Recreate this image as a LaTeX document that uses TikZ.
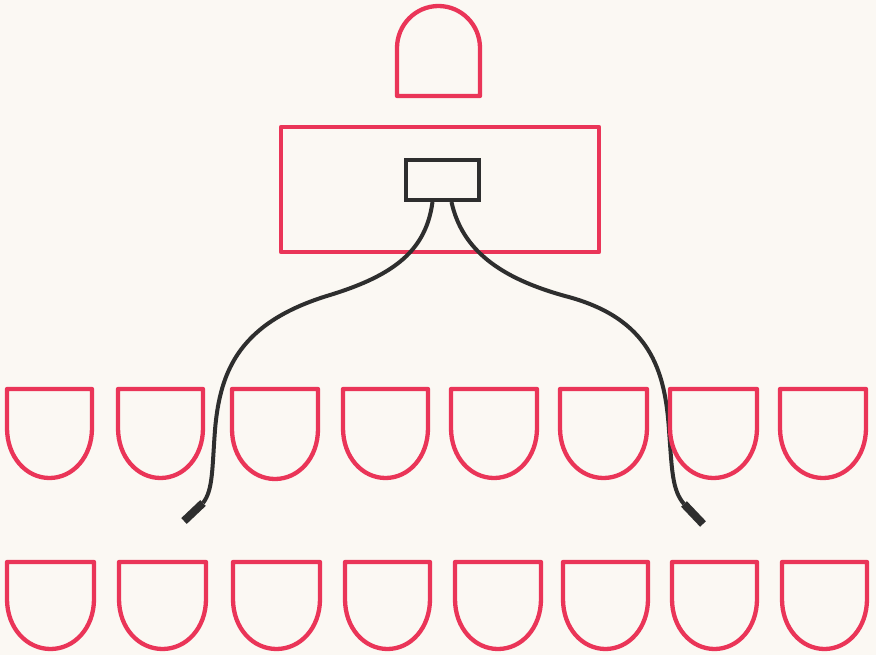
\documentclass[tikz,border=0pt]{standalone}
\usepackage{tikz}
\definecolor{bgc}{HTML}{FBF8F3}
\definecolor{seatred}{HTML}{EA3558}
\definecolor{cablegray}{HTML}{2E2E2E}
\newcommand{\seatpath}[4]{% L R T B
  \pgfmathsetmacro{\sC}{(#1+#2)/2}\pgfmathsetmacro{\sr}{(#2-#1)/2}%
  \pgfmathsetmacro{\sry}{50}%
  \draw[seat] (#1,#3) -- (#2,#3) -- (#2,#4-\sry)
    .. controls (#2,#4-\sry+0.58*\sry) and (\sC+0.55*\sr,#4) .. (\sC,#4)
    .. controls (\sC-0.55*\sr,#4) and (#1,#4-\sry+0.58*\sry) .. (#1,#4-\sry) -- cycle;}
\tikzset{
  seat/.style={draw=seatred, line width=4.3pt, line join=round},
  cable/.style={draw=cablegray, line width=4pt},
  plug/.style={draw=cablegray, line width=8pt, line cap=butt},
  jackbox/.style={draw=cablegray, line width=4pt, rectangle, inner sep=0pt, minimum width=73pt, minimum height=40pt}
}
\begin{document}
\begin{tikzpicture}[x=1pt,y=-1pt]
\fill[bgc] (0,0) rectangle (876,655);
\useasboundingbox (0,0) rectangle (876,655);
% top dome
\draw[seat] (397,96) -- (397,48)
  .. controls (397,24.8) and (415.6,6) .. (438.5,6)
  .. controls (461.4,6) and (480,24.8) .. (480,48) -- (480,96) -- cycle;
% big rectangle
\draw[seat] (281,127) rectangle (599,252);
% jack box
\node[jackbox] (jack) at (442.5,180) {};
\coordinate (lstart) at ([xshift=-10pt]jack.south);
\coordinate (rstart) at ([xshift=9pt]jack.south);
\coordinate (lplug) at (203,503);
\coordinate (lend) at (184,521);
\coordinate (rplug) at (684,504);
\coordinate (rend) at (703,524);
% cables
\draw[cable] (lstart) .. controls (426,250) and (395,275) .. (330,295)
  .. controls (240,322) and (220,370) .. (215,430)
  .. controls (212,470) and (213,490) .. (lplug);
\draw[cable] (rstart) .. controls (462,250) and (500,278) .. (565,296)
  .. controls (650,318) and (665,370) .. (669,430)
  .. controls (672,470) and (672,490) .. (rplug);
\draw[plug] (lplug) -- (lend);
\draw[plug] (rplug) -- (rend);
% row 1 seats
\seatpath{7}{92}{389}{478}
\seatpath{118}{203}{389}{478}
\seatpath{232}{318}{389}{479}
\seatpath{343}{428}{389}{478}
\seatpath{451}{537}{389}{478}
\seatpath{560}{647}{389}{478}
\seatpath{670}{757}{389}{478}
\seatpath{780}{866}{389}{478}
% row 2 seats
\seatpath{7}{94}{562}{649}
\seatpath{119}{206}{562}{649}
\seatpath{233}{320}{562}{649}
\seatpath{345}{430}{562}{649}
\seatpath{455}{541}{562}{649}
\seatpath{563}{648}{562}{649}
\seatpath{672}{757}{562}{649}
\seatpath{782}{867}{562}{649}
\end{tikzpicture}
\end{document}
